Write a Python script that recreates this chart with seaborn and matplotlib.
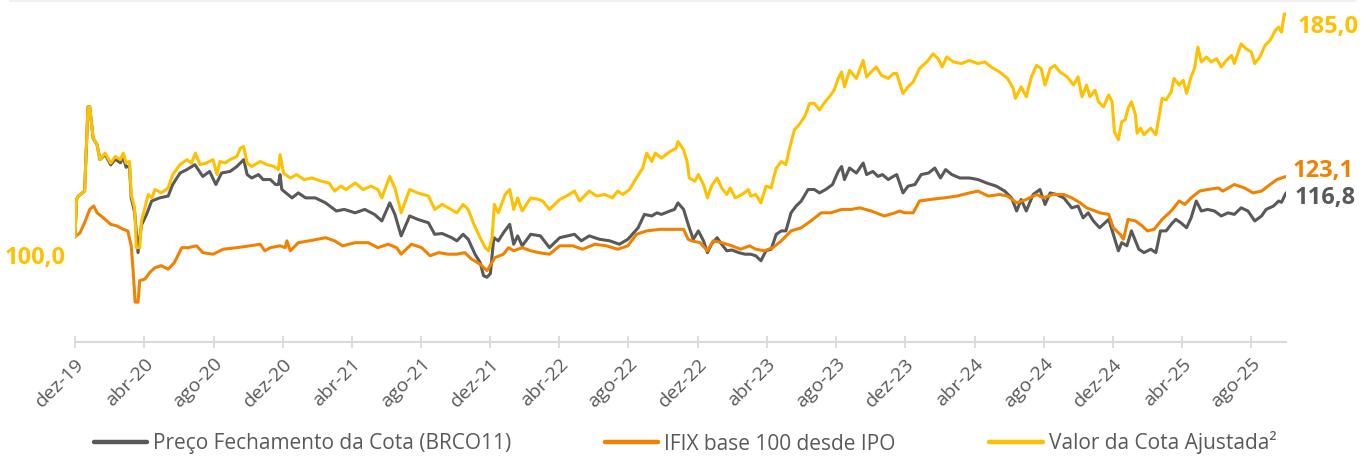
import pandas as pd
import matplotlib
matplotlib.use('Agg')
import matplotlib.pyplot as plt
import matplotlib.dates as mdates
from matplotlib.lines import Line2D
from matplotlib.ticker import FuncFormatter
import seaborn as sns

# series names / colours
nomes = ['Preço Fechamento da Cota (BRCO11)', 'IFIX base 100 desde IPO', 'Valor da Cota Ajustada²']
cores = ['#595959', '#F18200', '#FFC000']
meses_pt = ['jan', 'fev', 'mar', 'abr', 'mai', 'jun', 'jul', 'ago', 'set', 'out', 'nov', 'dez']

# Preço Fechamento da Cota (BRCO11)
datas_cota = [
    '2019-12-01', '2019-12-04', '2019-12-07', '2019-12-18', '2019-12-24', '2019-12-27', '2020-01-02', '2020-01-09',
    '2020-01-14', '2020-01-23', '2020-02-02', '2020-02-10', '2020-02-19', '2020-02-24', '2020-02-29', '2020-03-06',
    '2020-03-09', '2020-03-15', '2020-03-21', '2020-03-27', '2020-04-05', '2020-04-14', '2020-04-28', '2020-05-13',
    '2020-05-21', '2020-06-03', '2020-06-15', '2020-06-29', '2020-07-13', '2020-07-25', '2020-08-05', '2020-08-15',
    '2020-08-30', '2020-09-11', '2020-09-23', '2020-09-29', '2020-10-07', '2020-10-19', '2020-10-27', '2020-11-09',
    '2020-11-18', '2020-11-23', '2020-11-26', '2020-11-29', '2020-12-17', '2020-12-28', '2021-01-10', '2021-01-27',
    '2021-02-14', '2021-03-05', '2021-03-19', '2021-04-07', '2021-04-24', '2021-05-11', '2021-05-24', '2021-06-07',
    '2021-06-16', '2021-06-27', '2021-07-12', '2021-07-26', '2021-08-14', '2021-08-25', '2021-09-07', '2021-09-24',
    '2021-10-03', '2021-10-14', '2021-10-23', '2021-11-04', '2021-11-13', '2021-11-19', '2021-11-25', '2021-12-01',
    '2021-12-07', '2021-12-15', '2021-12-24', '2022-01-04', '2022-01-11', '2022-01-18', '2022-01-26', '2022-02-10',
    '2022-02-27', '2022-03-15', '2022-04-02', '2022-04-28', '2022-05-10', '2022-05-24', '2022-06-11', '2022-06-29',
    '2022-07-16', '2022-07-31', '2022-08-18', '2022-08-29', '2022-09-11', '2022-09-20', '2022-09-28', '2022-10-13',
    '2022-10-21', '2022-10-27', '2022-11-06', '2022-11-14', '2022-11-23', '2022-12-02', '2022-12-11', '2022-12-18',
    '2022-12-25', '2023-01-04', '2023-01-12', '2023-01-21', '2023-01-30', '2023-02-11', '2023-02-22', '2023-03-04',
    '2023-03-13', '2023-03-22', '2023-03-31', '2023-04-09', '2023-04-18', '2023-04-27', '2023-05-05', '2023-05-14',
    '2023-05-23', '2023-06-01', '2023-06-13', '2023-06-24', '2023-07-03', '2023-07-14', '2023-07-26', '2023-08-05',
    '2023-08-11', '2023-08-16', '2023-08-25', '2023-09-06', '2023-09-18', '2023-09-24', '2023-10-05', '2023-10-14',
    '2023-10-22', '2023-11-01', '2023-11-10', '2023-11-16', '2023-11-27', '2023-12-06', '2023-12-18', '2023-12-29',
    '2024-01-11', '2024-01-22', '2024-02-01', '2024-02-10', '2024-02-21', '2024-03-06', '2024-03-23', '2024-04-07',
    '2024-04-22', '2024-05-09', '2024-05-24', '2024-06-05', '2024-06-14', '2024-06-22', '2024-07-01', '2024-07-13',
    '2024-07-25', '2024-08-03', '2024-08-12', '2024-08-23', '2024-09-05', '2024-09-19', '2024-09-30', '2024-10-09',
    '2024-10-18', '2024-10-27', '2024-11-07', '2024-11-23', '2024-12-01', '2024-12-10', '2024-12-16', '2024-12-25',
    '2025-01-02', '2025-01-09', '2025-01-15', '2025-01-24', '2025-02-05', '2025-02-14', '2025-02-22', '2025-03-04',
    '2025-03-13', '2025-03-21', '2025-03-30', '2025-04-09', '2025-04-17', '2025-04-26', '2025-05-05', '2025-05-16',
    '2025-05-28', '2025-06-09', '2025-06-21', '2025-07-02', '2025-07-14', '2025-07-26', '2025-08-07', '2025-08-19',
    '2025-08-27', '2025-09-09', '2025-09-18', '2025-09-23', '2025-10-01']
cota = [
    100.0, 114.4, 115.6, 117.5, 149.7, 149.7, 137.7, 135.2,
    129.5, 131.5, 127.5, 129.7, 128.3, 130.5, 126.6, 127.2,
    114.9, 109.5, 94.0, 104.5, 108.6, 113.7, 114.9, 115.6,
    120.0, 124.4, 125.7, 127.6, 123.1, 125.0, 120.0, 124.4,
    125.0, 126.9, 129.5, 123.8, 122.5, 123.8, 121.9, 121.9,
    120.0, 120.0, 123.8, 118.1, 114.9, 116.8, 114.9, 114.9,
    113.0, 109.9, 110.5, 109.2, 110.5, 108.6, 106.1, 113.0,
    108.6, 100.4, 108.0, 106.7, 105.4, 101.0, 101.3, 99.7,
    98.5, 101.0, 99.1, 93.4, 90.2, 85.2, 84.6, 86.0,
    99.7, 98.5, 101.6, 104.8, 97.2, 100.4, 96.6, 101.0,
    100.4, 95.9, 99.7, 101.0, 98.5, 100.4, 99.1, 98.5,
    97.2, 99.1, 103.5, 108.6, 108.0, 109.2, 108.6, 109.9,
    110.5, 113.0, 110.5, 104.8, 99.1, 102.3, 98.5, 94.0,
    97.2, 99.7, 97.2, 94.7, 95.0, 94.0, 93.4, 93.4,
    92.8, 90.9, 94.7, 95.3, 101.0, 102.3, 102.3, 109.2,
    111.8, 113.7, 118.1, 118.1, 116.8, 118.1, 120.0, 125.0,
    126.9, 121.9, 126.3, 124.4, 128.2, 123.8, 125.0, 123.1,
    123.8, 121.9, 123.1, 123.8, 116.8, 119.4, 120.0, 123.8,
    124.4, 126.3, 122.5, 125.7, 123.8, 122.5, 122.5, 121.9,
    120.6, 119.4, 117.5, 114.9, 109.9, 114.3, 109.9, 116.2,
    118.1, 112.4, 116.8, 116.2, 114.9, 111.1, 111.8, 107.3,
    109.2, 106.1, 103.5, 106.7, 101.0, 94.7, 97.8, 96.6,
    102.3, 98.5, 95.3, 94.0, 95.3, 94.0, 102.3, 102.3,
    104.8, 106.7, 105.4, 103.5, 107.3, 113.7, 109.9, 110.5,
    109.9, 108.0, 109.2, 108.6, 111.1, 109.9, 106.1, 108.0,
    110.5, 111.8, 113.7, 113.2, 116.8]

# IFIX base 100 desde IPO
datas_ifix = [
    '2019-12-01', '2019-12-10', '2019-12-18', '2019-12-27', '2020-01-03', '2020-01-09', '2020-01-20', '2020-02-02',
    '2020-02-13', '2020-02-24', '2020-03-03', '2020-03-09', '2020-03-12', '2020-03-16', '2020-03-21', '2020-03-24',
    '2020-04-02', '2020-04-11', '2020-04-20', '2020-05-01', '2020-05-13', '2020-05-24', '2020-06-06', '2020-06-17',
    '2020-07-02', '2020-07-13', '2020-07-31', '2020-08-18', '2020-09-11', '2020-10-04', '2020-10-22', '2020-10-30',
    '2020-11-09', '2020-11-26', '2020-12-05', '2020-12-08', '2020-12-14', '2020-12-28', '2021-01-16', '2021-02-14',
    '2021-03-02', '2021-03-16', '2021-04-07', '2021-04-30', '2021-05-17', '2021-06-04', '2021-06-19', '2021-06-27',
    '2021-07-15', '2021-08-02', '2021-08-17', '2021-09-01', '2021-09-18', '2021-10-03', '2021-10-17', '2021-10-29',
    '2021-11-13', '2021-11-25', '2021-12-09', '2021-12-24', '2022-01-02', '2022-01-11', '2022-01-26', '2022-02-10',
    '2022-02-24', '2022-03-15', '2022-04-02', '2022-04-25', '2022-05-12', '2022-06-03', '2022-06-23', '2022-07-13',
    '2022-07-31', '2022-08-15', '2022-09-02', '2022-09-26', '2022-10-18', '2022-11-06', '2022-11-14', '2022-11-20',
    '2022-12-05', '2022-12-18', '2022-12-28', '2023-01-12', '2023-01-30', '2023-02-14', '2023-03-02', '2023-03-13',
    '2023-03-28', '2023-04-12', '2023-04-27', '2023-05-14', '2023-06-01', '2023-06-18', '2023-07-06', '2023-07-23',
    '2023-08-11', '2023-08-28', '2023-09-12', '2023-10-02', '2023-10-25', '2023-11-13', '2023-11-21', '2023-11-30',
    '2023-12-15', '2023-12-26', '2024-01-14', '2024-02-07', '2024-03-01', '2024-03-23', '2024-04-07', '2024-04-25',
    '2024-05-15', '2024-05-29', '2024-06-14', '2024-07-01', '2024-07-19', '2024-07-31', '2024-08-17', '2024-09-05',
    '2024-09-19', '2024-10-04', '2024-10-15', '2024-10-30', '2024-11-07', '2024-11-23', '2024-12-01', '2024-12-13',
    '2024-12-19', '2024-12-27', '2025-01-09', '2025-01-21', '2025-01-30', '2025-02-11', '2025-02-25', '2025-03-13',
    '2025-03-27', '2025-04-06', '2025-04-17', '2025-05-02', '2025-05-16', '2025-06-04', '2025-06-12', '2025-07-02',
    '2025-07-20', '2025-08-04', '2025-08-19', '2025-09-03', '2025-09-15', '2025-10-01']
ifix = [
    100.0, 101.6, 105.4, 110.5, 111.8, 109.2, 107.3, 104.8,
    104.2, 102.9, 102.3, 96.6, 88.3, 75.1, 75.1, 83.3,
    83.9, 86.5, 88.3, 89.0, 87.7, 90.2, 95.9, 95.9,
    96.6, 94.0, 93.4, 95.3, 95.9, 96.6, 97.2, 94.7,
    95.9, 96.6, 95.9, 98.5, 94.7, 97.8, 98.5, 99.7,
    98.5, 96.6, 97.8, 97.8, 95.9, 97.2, 95.9, 93.4,
    97.2, 95.9, 92.8, 94.0, 93.4, 93.4, 94.0, 91.5,
    89.6, 87.1, 92.1, 93.4, 95.9, 94.7, 95.9, 94.7,
    94.0, 93.4, 96.6, 96.6, 95.3, 97.2, 96.6, 95.3,
    96.6, 101.0, 102.3, 102.9, 102.9, 102.9, 99.1, 98.5,
    97.8, 94.7, 98.5, 97.8, 96.6, 95.3, 96.6, 95.3,
    94.7, 95.9, 98.5, 102.3, 103.5, 106.1, 109.2, 109.2,
    110.5, 110.5, 111.1, 109.9, 108.0, 109.2, 109.9, 109.2,
    109.2, 113.7, 114.3, 114.9, 115.6, 116.8, 117.5, 115.6,
    116.2, 115.6, 113.0, 114.3, 116.2, 114.9, 116.2, 116.2,
    114.9, 113.0, 111.1, 109.9, 109.2, 108.6, 103.5, 101.0,
    99.1, 106.7, 106.1, 104.2, 102.3, 102.9, 106.7, 109.9,
    113.7, 112.4, 114.9, 117.5, 118.1, 118.7, 117.5, 120.0,
    118.7, 116.8, 117.5, 120.0, 121.9, 123.1]

# Valor da Cota Ajustada
datas_ajustada = [
    '2019-12-01', '2019-12-04', '2019-12-07', '2019-12-18', '2019-12-24', '2019-12-27', '2020-01-02', '2020-01-09',
    '2020-01-14', '2020-01-23', '2020-02-02', '2020-02-10', '2020-02-19', '2020-02-24', '2020-02-29', '2020-03-06',
    '2020-03-09', '2020-03-15', '2020-03-18', '2020-03-24', '2020-03-27', '2020-04-02', '2020-04-08', '2020-04-14',
    '2020-04-20', '2020-05-01', '2020-05-13', '2020-05-21', '2020-06-03', '2020-06-15', '2020-06-23', '2020-06-30',
    '2020-07-08', '2020-07-19', '2020-07-31', '2020-08-07', '2020-08-12', '2020-08-21', '2020-08-30', '2020-09-11',
    '2020-09-17', '2020-09-23', '2020-09-29', '2020-10-07', '2020-10-22', '2020-11-03', '2020-11-15', '2020-11-23',
    '2020-11-26', '2020-12-02', '2020-12-14', '2020-12-25', '2021-01-07', '2021-01-21', '2021-02-06', '2021-02-20',
    '2021-03-02', '2021-03-13', '2021-03-22', '2021-04-07', '2021-04-21', '2021-05-05', '2021-05-17', '2021-05-24',
    '2021-06-07', '2021-06-16', '2021-06-27', '2021-07-12', '2021-07-26', '2021-08-14', '2021-08-25', '2021-09-07',
    '2021-09-18', '2021-10-03', '2021-10-14', '2021-10-23', '2021-11-02', '2021-11-13', '2021-11-22', '2021-11-28',
    '2021-12-04', '2021-12-08', '2021-12-15', '2021-12-27', '2022-01-04', '2022-01-11', '2022-01-18', '2022-01-26',
    '2022-02-10', '2022-02-24', '2022-03-03', '2022-03-15', '2022-04-02', '2022-04-14', '2022-04-28', '2022-05-07',
    '2022-05-24', '2022-06-06', '2022-06-20', '2022-07-04', '2022-07-13', '2022-07-22', '2022-08-03', '2022-08-15',
    '2022-08-26', '2022-09-02', '2022-09-11', '2022-09-17', '2022-09-28', '2022-10-13', '2022-10-24', '2022-10-27',
    '2022-11-06', '2022-11-12', '2022-11-16', '2022-11-26', '2022-12-02', '2022-12-11', '2022-12-18', '2022-12-25',
    '2023-01-04', '2023-01-12', '2023-01-21', '2023-01-27', '2023-02-05', '2023-02-17', '2023-02-28', '2023-03-04',
    '2023-03-13', '2023-03-22', '2023-03-31', '2023-04-09', '2023-04-18', '2023-04-27', '2023-05-05', '2023-05-13',
    '2023-05-20', '2023-05-28', '2023-06-07', '2023-06-16', '2023-06-24', '2023-07-03', '2023-07-11', '2023-07-23',
    '2023-07-29', '2023-08-05', '2023-08-11', '2023-08-16', '2023-08-25', '2023-09-06', '2023-09-18', '2023-09-24',
    '2023-10-02', '2023-10-11', '2023-10-20', '2023-11-01', '2023-11-10', '2023-11-16', '2023-11-27', '2023-12-06',
    '2023-12-15', '2023-12-26', '2024-01-08', '2024-01-19', '2024-01-28', '2024-02-04', '2024-02-12', '2024-02-24',
    '2024-03-09', '2024-03-23', '2024-04-07', '2024-04-19', '2024-04-30', '2024-05-15', '2024-05-29', '2024-06-08',
    '2024-06-12', '2024-06-22', '2024-07-01', '2024-07-10', '2024-07-19', '2024-07-27', '2024-08-03', '2024-08-12',
    '2024-08-20', '2024-08-29', '2024-09-11', '2024-09-22', '2024-09-30', '2024-10-07', '2024-10-15', '2024-10-21',
    '2024-10-30', '2024-11-05', '2024-11-14', '2024-11-23', '2024-11-29', '2024-12-03', '2024-12-10', '2024-12-16',
    '2024-12-22', '2024-12-27', '2025-01-02', '2025-01-09', '2025-01-12', '2025-01-18', '2025-01-24', '2025-02-05',
    '2025-02-14', '2025-02-19', '2025-02-25', '2025-03-04', '2025-03-13', '2025-03-18', '2025-03-27', '2025-04-03',
    '2025-04-09', '2025-04-17', '2025-04-23', '2025-04-29', '2025-05-05', '2025-05-14', '2025-05-22', '2025-06-01',
    '2025-06-09', '2025-06-18', '2025-06-27', '2025-07-02', '2025-07-14', '2025-07-23', '2025-08-01', '2025-08-07',
    '2025-08-16', '2025-08-25', '2025-09-03', '2025-09-12', '2025-09-18', '2025-09-23', '2025-09-28', '2025-10-01']
ajustada = [
    100.0, 114.4, 115.6, 117.5, 149.7, 149.7, 137.7, 135.2,
    129.5, 132.0, 128.2, 130.7, 129.5, 132.0, 128.2, 128.8,
    116.2, 111.1, 95.9, 95.9, 106.0, 111.1, 116.2, 114.9,
    118.1, 116.8, 118.7, 123.8, 127.6, 129.5, 128.2, 132.0,
    127.6, 128.2, 129.5, 123.8, 128.8, 128.2, 129.5, 130.7,
    133.9, 134.5, 128.2, 126.9, 128.8, 127.6, 126.9, 125.7,
    131.4, 124.4, 122.5, 123.8, 121.9, 122.5, 121.3, 120.6,
    117.5, 119.4, 118.1, 120.6, 118.1, 119.4, 118.1, 114.9,
    123.1, 118.7, 109.2, 118.1, 116.8, 115.6, 110.5, 112.4,
    111.1, 109.2, 112.4, 110.5, 104.8, 99.7, 95.9, 94.7,
    99.7, 112.4, 109.2, 116.2, 118.1, 110.5, 114.9, 109.9,
    114.9, 114.3, 113.7, 110.5, 114.3, 115.6, 117.5, 113.7,
    117.5, 115.6, 116.2, 114.9, 117.5, 116.2, 118.1, 122.5,
    126.3, 132.0, 128.8, 132.0, 130.1, 132.6, 133.9, 136.4,
    133.3, 129.0, 122.5, 121.3, 123.8, 120.0, 114.9, 119.4,
    122.5, 118.7, 116.2, 118.7, 114.9, 116.2, 118.1, 115.6,
    116.2, 113.0, 119.4, 118.7, 126.3, 128.8, 127.6, 135.2,
    140.9, 142.8, 145.9, 151.0, 151.0, 148.5, 151.0, 154.2,
    156.1, 160.5, 163.0, 157.3, 163.6, 160.5, 167.4, 161.1,
    163.0, 164.9, 161.7, 160.5, 162.4, 162.4, 154.8, 157.3,
    159.2, 164.3, 166.8, 169.9, 168.0, 164.9, 168.7, 166.8,
    166.2, 167.4, 166.2, 166.8, 164.9, 163.0, 160.5, 156.7,
    152.9, 157.3, 153.5, 161.1, 165.5, 164.3, 158.0, 164.3,
    165.5, 163.0, 161.1, 158.0, 161.1, 153.5, 158.0, 153.5,
    156.0, 151.6, 149.7, 154.2, 151.6, 140.2, 137.1, 144.0,
    144.7, 149.1, 151.6, 146.6, 139.6, 141.5, 139.0, 141.5,
    139.0, 145.3, 152.9, 152.3, 155.4, 160.5, 158.0, 159.8,
    154.8, 161.1, 164.3, 172.5, 166.8, 168.7, 166.8, 168.0,
    164.9, 167.4, 169.3, 166.2, 173.7, 171.8, 170.6, 166.2,
    168.7, 173.1, 175.0, 178.8, 180.1, 178.2, 185.1, 185.0]

partes = []
for nome, d, v in zip(nomes, [datas_cota, datas_ifix, datas_ajustada], [cota, ifix, ajustada]):
    partes.append(pd.DataFrame({'data': pd.to_datetime(d), 'valor': v, 'serie': nome}))
df = pd.concat(partes, ignore_index=True)

sns.set_theme(style='white')
plt.rcParams['font.family'] = ['Open Sans', 'DejaVu Sans']

fig = plt.figure(figsize=(13.7, 4.59), dpi=100)
ax = fig.add_axes([0.0547, 0.2556, 0.8840, 0.7418])

sns.lineplot(data=df, x='data', y='valor', hue='serie', hue_order=nomes, palette=cores,
             linewidth=2.2, estimator=None, sort=True, legend=False, ax=ax)

ax.set_xlim(pd.Timestamp('2019-12-01'), pd.Timestamp('2025-10-01'))
ax.set_ylim(60, 190)
ax.set_xlabel('')
ax.set_ylabel('')
ax.set_yticks([])
for s in ['left', 'top', 'right']:
    ax.spines[s].set_visible(False)
ax.spines['bottom'].set_color('#D9D9D9')
ax.spines['bottom'].set_linewidth(1.5)

ax.xaxis.set_major_locator(mdates.MonthLocator(bymonth=[4, 8, 12], bymonthday=1))
ax.xaxis.set_major_formatter(FuncFormatter(
    lambda x, pos: f"{meses_pt[mdates.num2date(x).month - 1]}-{mdates.num2date(x).year % 100:02d}"))
ax.tick_params(axis='x', direction='inout', length=9, width=1.3, color='#D9D9D9',
               labelsize=14, labelcolor='#595959', pad=5, bottom=True)
plt.setp(ax.get_xticklabels(), rotation=45, ha='right', rotation_mode='anchor')

# end labels
def rotulo(v):
    return f'{v:.1f}'.replace('.', ',')

fim = df['data'].max()
ax.annotate(rotulo(ajustada[-1]), xy=(fim, ajustada[-1]), xytext=(8, -9), textcoords='offset points',
            ha='left', va='center', color=cores[2], fontsize=17, fontweight='bold', annotation_clip=False)
ax.annotate(rotulo(ifix[-1]), xy=(fim, ifix[-1]), xytext=(5, 3.6), textcoords='offset points',
            ha='left', va='center', color=cores[1], fontsize=17, fontweight='bold', annotation_clip=False)
ax.annotate(rotulo(cota[-1]), xy=(fim, cota[-1]), xytext=(6, -3.6), textcoords='offset points',
            ha='left', va='center', color=cores[0], fontsize=17, fontweight='bold', annotation_clip=False)
ax.annotate(rotulo(ajustada[0]), xy=(pd.Timestamp(datas_ajustada[0]), ajustada[0]), xytext=(-7, -15),
            textcoords='offset points', ha='right', va='center', color=cores[2], fontsize=17,
            fontweight='bold', annotation_clip=False)

# faint frame line at the top
fig.add_artist(Line2D([10 / 1370, 1355 / 1370], [0.998, 0.998], color='#EEEEEE', lw=1.2))

handles = [Line2D([0], [0], color=c, lw=3.2) for c in cores]
fig.legend(handles, nomes, loc='center', bbox_to_anchor=(0.5, 16 / 459), ncol=3, frameon=False,
           fontsize=15, handlelength=2.55, handletextpad=0.3, columnspacing=4.5, labelcolor='#595959')

fig.savefig('out.png', dpi=100)
